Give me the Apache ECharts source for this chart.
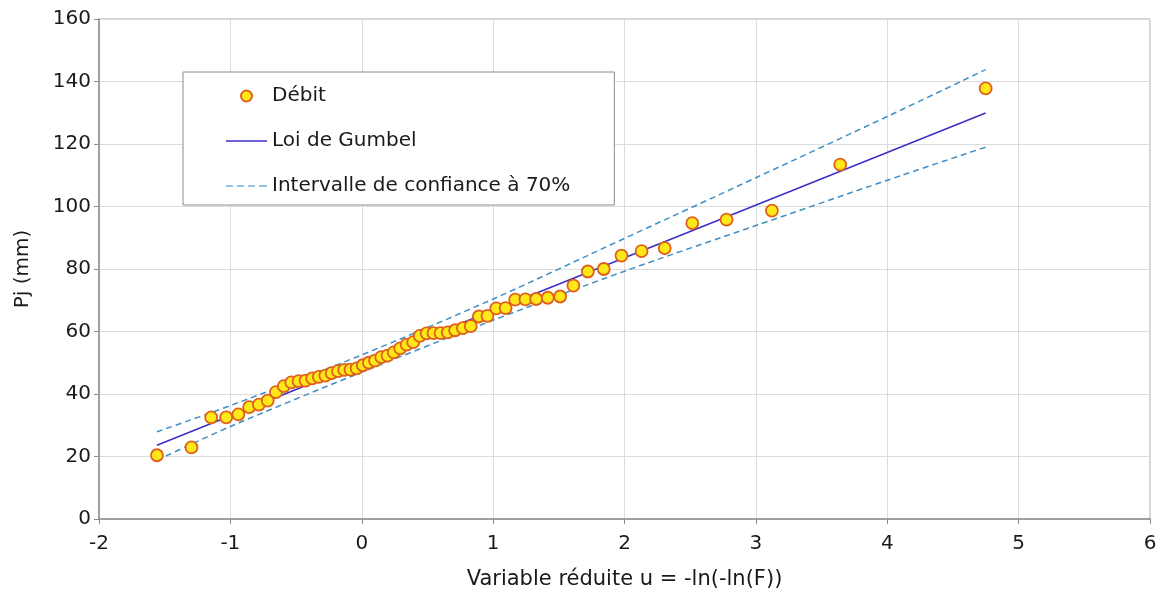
<!DOCTYPE html>
<html>
<head>
<meta charset="utf-8">
<script src="https://cdn.jsdelivr.net/npm/echarts@6/dist/echarts.min.js"></script>
<style>
  html, body { margin: 0; padding: 0; background: #fff; }
  #chart { width: 1161px; height: 603px; }
</style>
</head>
<body>
<div id="chart"></div>
<script>
// variable réduite u (abscisse de chaque observation)
const uValues = [
  -1.559, -1.296, -1.146, -1.032, -0.939, -0.857, -0.783, -0.716, -0.653, -0.593,
  -0.536, -0.481, -0.428, -0.377, -0.327, -0.277, -0.229, -0.181, -0.133, -0.086,
  -0.039, 0.008, 0.054, 0.101, 0.149, 0.196, 0.244, 0.293, 0.342, 0.392,
  0.442, 0.494, 0.546, 0.600, 0.655, 0.711, 0.770, 0.830, 0.892, 0.957,
  1.024, 1.095, 1.168, 1.246, 1.328, 1.416, 1.510, 1.611, 1.721, 1.842,
  1.977, 2.130, 2.306, 2.516, 2.777, 3.122, 3.642, 4.749
]
// Pj observés (mm)
const debitValues = [
  20.4, 22.9, 32.5, 32.5, 33.5, 35.8, 36.6, 37.9, 40.6, 42.5,
  43.7, 44.1, 44.3, 45.0, 45.5, 45.9, 46.7, 47.3, 47.7, 47.8,
  48.2, 49.2, 50.0, 50.7, 51.8, 52.3, 53.3, 54.6, 55.8, 56.6,
  58.6, 59.4, 59.5, 59.5, 59.7, 60.4, 61.1, 61.7, 64.8, 65.0,
  67.4, 67.5, 70.2, 70.3, 70.4, 70.8, 71.2, 74.7, 79.2, 80.0,
  84.3, 85.7, 86.7, 94.7, 95.8, 98.7, 113.4, 137.8
]
// droite de Gumbel
const gumbelU = [-1.559, 4.749]
const gumbelP = [23.6, 129.9]
// intervalle de confiance à 70%
const ciU = [-1.559, -1, 0, 1, 2, 3, 4, 4.749]
const ciUpper = [27.9, 36.3, 52.5, 70.4, 89.8, 109.2, 128.8, 143.8]
const ciLower = [18.8, 29.6, 47.0, 63.6, 79.3, 93.9, 108.4, 119.0]

const xTicks = [-2, -1, 0, 1, 2, 3, 4, 5, 6]
const yTicks = [0, 20, 40, 60, 80, 100, 120, 140, 160]

const pairs = (xs, ys) => xs.map((x, i) => [x, ys[i]])

const font = "'DejaVu Sans', 'Liberation Sans', sans-serif"
const ciName = 'Intervalle de confiance à 70%'
const ciColor = '#3f8fc4'
const gumbelColor = '#3a2fc4'

// icônes de légende : trait plein et trait pointillé
const solidIcon = 'path://M0,0h41v1.6h-41z'
const dashIcon = 'path://M0,0h7v1.6h-7zM11,0h7v1.6h-7zM22,0h7v1.6h-7zM33,0h8v1.6h-8z'

const chart = echarts.init(document.getElementById('chart'), null, { renderer: 'canvas' })
chart.setOption({
  animation: false,
  backgroundColor: '#ffffff',
  grid: {
    left: 99,
    right: 11,
    top: 19,
    bottom: 84,
    show: true,
    borderColor: '#a6a6a6',
    borderWidth: 1
  },
  legend: {
    orient: 'vertical',
    left: 183,
    top: 72,
    padding: [14, 44, 9, 43],
    backgroundColor: '#ffffff',
    borderColor: '#8c8c8c',
    borderWidth: 1,
    itemWidth: 41,
    itemHeight: 11,
    itemGap: 25,
    symbolKeepAspect: true,
    textStyle: { fontFamily: font, fontSize: 20, color: '#1a1a1a' },
    data: [
      { name: 'Débit' },
      { name: 'Loi de Gumbel', icon: solidIcon, itemStyle: { color: gumbelColor } },
      { name: ciName, icon: dashIcon, itemStyle: { color: '#6fb3dc' } }
    ]
  },
  xAxis: {
    type: 'value',
    min: xTicks[0],
    max: xTicks[xTicks.length - 1],
    interval: 1,
    name: 'Variable réduite u = -ln(-ln(F))',
    nameLocation: 'middle',
    nameGap: 50,
    nameTextStyle: { fontFamily: font, fontSize: 21, color: '#1a1a1a' },
    axisLine: { onZero: false, lineStyle: { color: '#8c8c8c', width: 1.5 } },
    axisTick: { show: true, inside: false, length: 5, lineStyle: { color: '#8c8c8c' } },
    axisLabel: { fontFamily: font, fontSize: 20, color: '#1a1a1a', margin: 15 },
    splitLine: { show: true, lineStyle: { color: '#dcdcdc', width: 1 } }
  },
  yAxis: {
    type: 'value',
    min: yTicks[0],
    max: yTicks[yTicks.length - 1],
    interval: 20,
    name: 'Pj (mm)',
    nameLocation: 'middle',
    nameGap: 66,
    nameTextStyle: { fontFamily: font, fontSize: 20, color: '#1a1a1a' },
    axisLine: { show: true, onZero: false, lineStyle: { color: '#8c8c8c', width: 1.5 } },
    axisTick: { show: true, inside: false, length: 5, lineStyle: { color: '#8c8c8c' } },
    axisLabel: { fontFamily: font, fontSize: 20, color: '#1a1a1a', margin: 8 },
    splitLine: { show: true, lineStyle: { color: '#dcdcdc', width: 1 } }
  },
  series: [
    {
      name: ciName,
      type: 'line',
      data: pairs(ciU, ciUpper),
      symbol: 'none',
      smooth: 0.3,
      lineStyle: { color: ciColor, width: 1.5, type: [6, 4] },
      itemStyle: { color: ciColor },
      z: 2
    },
    {
      name: ciName,
      type: 'line',
      data: pairs(ciU, ciLower),
      symbol: 'none',
      smooth: 0.3,
      lineStyle: { color: ciColor, width: 1.5, type: [6, 4] },
      itemStyle: { color: ciColor },
      z: 2
    },
    {
      name: 'Loi de Gumbel',
      type: 'line',
      data: pairs(gumbelU, gumbelP),
      symbol: 'none',
      lineStyle: { color: gumbelColor, width: 1.5 },
      itemStyle: { color: gumbelColor },
      z: 3
    },
    {
      name: 'Débit',
      type: 'scatter',
      data: pairs(uValues, debitValues),
      symbol: 'circle',
      symbolSize: 12,
      itemStyle: { color: '#ffe81a', borderColor: '#e0601a', borderWidth: 1.8, opacity: 1 },
      z: 4
    }
  ]
})
</script>
</body>
</html>
